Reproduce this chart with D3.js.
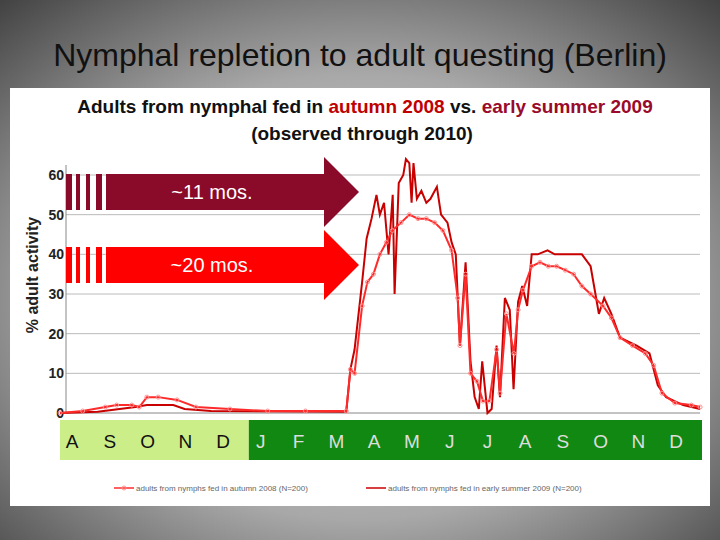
<!DOCTYPE html><html><head><meta charset="utf-8">
<script src="https://cdn.jsdelivr.net/npm/d3@7"></script>
<style>body{margin:0}svg{display:block;font-family:"Liberation Sans",Arial,sans-serif}</style></head><body>
<svg id="c" width="720" height="540"></svg>
<script>
const months=["A","S","O","N","D","J","F","M","A","M","J","J","A","S","O","N","D"];
const yTicks=[0,10,20,30,40,50,60];
// t = months since 1 Aug 2008
const autumnT=[0,0.6,1.2,1.5,1.9,2.1,2.3,2.6,3.1,3.6,4.5,5.5,6.5,7.58,7.69,7.8,8.0,8.14,8.3,8.47,8.64,8.8,9.03,9.25,9.48,9.7,9.92,10.14,10.37,10.53,10.59,10.74,10.87,11.04,11.2,11.37,11.56,11.65,11.82,12.02,12.13,12.26,12.49,12.71,12.93,13.15,13.38,13.6,13.82,14.05,14.38,14.6,14.83,15.16,15.5,15.72,15.94,16.28,16.72,16.95];
const autumnV=[0,0.5,1.5,2,2,1.5,4,4,3.3,1.5,1,0.5,0.5,0.5,11,10,27,33,35,40,43,46,48,50,49,49,48,46,41,29,17,35,10,8,3,3,16,5,25,15,26,31,37,38,37,37,36,35,32,30,27,24,19,17,15,12,5,2.5,2,1.5];
const summerT=[0,1.0,2.0,2.3,3.0,3.3,4.0,7.5,7.58,7.69,7.8,8.0,8.12,8.25,8.38,8.47,8.58,8.7,8.81,8.86,8.97,9.09,9.16,9.25,9.31,9.36,9.45,9.57,9.7,9.81,9.98,10.09,10.26,10.37,10.48,10.59,10.74,10.87,10.98,11.09,11.18,11.32,11.43,11.56,11.65,11.78,11.91,12.01,12.13,12.24,12.37,12.49,12.65,12.91,13.1,13.32,13.55,13.82,14.05,14.27,14.41,14.6,14.83,15.05,15.27,15.61,15.83,16.05,16.5,16.95];
const summerV=[0,0.3,1.5,2,2,1,0.5,0.3,0.3,11,16,33,44,49,55,50,53,40,55,30,58,60,64,63,53,63,54,56,53,54,57,50,48,43,40,17,38,13,4,1,13,0,1,17,4,29,26,6,28,32,27,40,40,41,40,40,40,40,37,25,29,25,19,18,17,15,7,4,2,1];

const svg=d3.select("#c");
const defs=svg.append("defs");
const g=defs.append("radialGradient").attr("id","bg").attr("cx","50%").attr("cy","55%").attr("r","75%");
g.append("stop").attr("offset","0%").attr("stop-color","#dedede");
g.append("stop").attr("offset","55%").attr("stop-color","#a8a8a8");
g.append("stop").attr("offset","100%").attr("stop-color","#404040");
svg.append("rect").attr("width",720).attr("height",540).attr("fill","url(#bg)");
svg.append("text").attr("x",360).attr("y",66).attr("text-anchor","middle").attr("font-size",32).attr("fill","#111").text("Nymphal repletion to adult questing (Berlin)");
svg.append("rect").attr("x",10).attr("y",88).attr("width",700).attr("height",418).attr("fill","#fff");

const st=svg.append("text").attr("x",365).attr("y",113).attr("text-anchor","middle").attr("font-size",19).attr("font-weight","bold").attr("fill","#111");
st.append("tspan").text("Adults from nymphal fed in ");
st.append("tspan").attr("fill","#c00000").text("autumn 2008");
st.append("tspan").text(" vs. ");
st.append("tspan").attr("fill","#9a0a2a").text("early summer 2009");
svg.append("text").attr("x",362).attr("y",140).attr("text-anchor","middle").attr("font-size",19).attr("font-weight","bold").attr("fill","#111").text("(observed through 2010)");

const x=d3.scaleLinear().domain([0,17]).range([60,702]);
const y=d3.scaleLinear().domain([0,60]).range([413,175]);

svg.append("g").selectAll("line").data(yTicks.filter(d=>d>0)).join("line")
 .attr("x1",66).attr("x2",700).attr("y1",d=>y(d)).attr("y2",d=>y(d)).attr("stroke","#bbb");
svg.append("line").attr("x1",66).attr("x2",66).attr("y1",165).attr("y2",413).attr("stroke","#888");
svg.append("line").attr("x1",66).attr("x2",700).attr("y1",413).attr("y2",413).attr("stroke","#888");
svg.append("g").selectAll("text").data(yTicks).join("text").attr("x",64).attr("y",d=>y(d)+5)
 .attr("text-anchor","end").attr("font-size",14).attr("font-weight","bold").attr("fill","#222").text(d=>d);
svg.append("text").attr("transform","translate(38,275) rotate(-90)").attr("text-anchor","middle")
 .attr("font-size",16).attr("font-weight","bold").attr("fill","#222").text("% adult activity");

function arrow(yc,col,label){
  const p=d3.path();
  p.moveTo(106,yc-18);p.lineTo(324,yc-18);p.lineTo(324,yc-35);p.lineTo(359,yc);p.lineTo(324,yc+35);p.lineTo(324,yc+18);p.lineTo(106,yc+18);p.closePath();
  svg.append("path").attr("d",p.toString()).attr("fill",col);
  [[66,6],[76,4],[86,4],[96,6]].forEach(([sx,w])=>svg.append("rect").attr("x",sx).attr("y",yc-18).attr("width",w).attr("height",36).attr("fill",col));
  svg.append("text").attr("x",212).attr("y",yc+7).attr("text-anchor","middle").attr("font-size",20).attr("fill","#fff").text(label);
}
arrow(192,"#8a0a2a","~11 mos.");
arrow(265,"#ff0000","~20 mos.");

const line=d3.line().x(d=>x(d[0])).y(d=>y(d[1]));
const A=autumnT.map((t,i)=>[t,autumnV[i]]), S=summerT.map((t,i)=>[t,summerV[i]]);
svg.append("path").attr("d",line(S)).attr("fill","none").attr("stroke","#c80000").attr("stroke-width",2);
svg.append("path").attr("d",line(A)).attr("fill","none").attr("stroke","#ff2a2a").attr("stroke-width",2);
svg.append("g").selectAll("circle").data(A).join("circle").attr("cx",d=>x(d[0])).attr("cy",d=>y(d[1])).attr("r",2).attr("fill","none").attr("stroke","#ff9090");

svg.append("rect").attr("x",x(0)).attr("y",420).attr("width",x(5)-x(0)).attr("height",40).attr("fill","#ccee88");
svg.append("rect").attr("x",x(5)).attr("y",420).attr("width",x(17)-x(5)).attr("height",40).attr("fill","#118811");
svg.append("g").selectAll("text").data(months).join("text").attr("x",(d,i)=>x(i)+12).attr("y",448)
 .attr("text-anchor","middle").attr("font-size",19).attr("fill",(d,i)=>i<5?"#111":"#ddd").text(d=>d);

const lg=svg.append("g").attr("font-size",8).attr("fill","#666");
lg.append("line").attr("x1",114).attr("x2",134).attr("y1",488).attr("y2",488).attr("stroke","#ff2a2a").attr("stroke-width",1.5);
lg.append("circle").attr("cx",124).attr("cy",488).attr("r",2).attr("fill","none").attr("stroke","#ff9090");
lg.append("text").attr("x",136).attr("y",491).text("adults from nymphs fed in autumn 2008 (N=200)");
lg.append("line").attr("x1",366).attr("x2",386).attr("y1",488).attr("y2",488).attr("stroke","#c80000").attr("stroke-width",1.5);
lg.append("text").attr("x",388).attr("y",491).text("adults from nymphs fed in early summer 2009 (N=200)");
</script></body></html>
